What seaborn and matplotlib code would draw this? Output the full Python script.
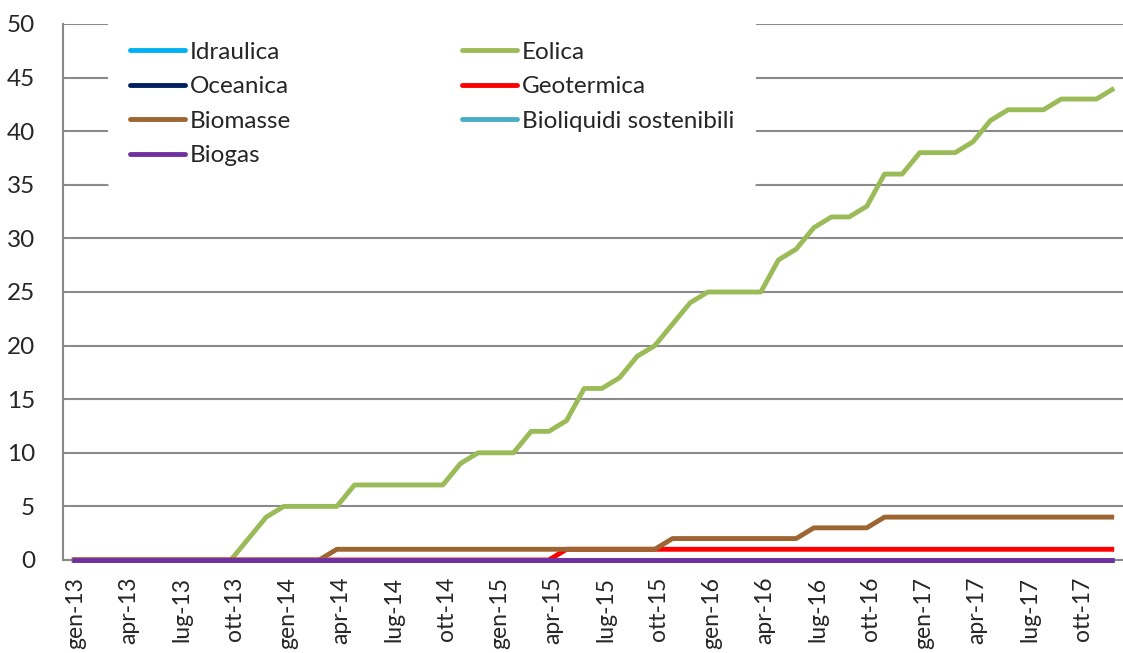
import matplotlib.pyplot as plt
import matplotlib.transforms as mtransforms
import numpy as np
import pandas as pd
import seaborn as sns
from matplotlib.lines import Line2D

months = ["gen", "feb", "mar", "apr", "mag", "giu", "lug", "ago", "set", "ott", "nov", "dic"]
years = ["13", "14", "15", "16", "17"]
periods = [f"{m}-{y}" for y in years for m in months]

idraulica = [0] * 60
oceanica = [0] * 60
bioliquidi = [0] * 60
biogas = [0] * 60
eolica = [0] * 10 + [2, 4, 5, 5, 5, 5, 7, 7, 7, 7,
                     7, 7, 9, 10, 10, 10, 12, 12, 13, 16,
                     16, 17, 19, 20, 22, 24, 25, 25, 25, 25,
                     28, 29, 31, 32, 32, 33, 36, 36, 38, 38,
                     38, 39, 41, 42, 42, 42, 43, 43, 43, 44]
geotermica = [0] * 28 + [1] * 32
biomasse = [0] * 15 + [1] * 19 + [2] * 8 + [3] * 4 + [4] * 14

series = ["Idraulica", "Eolica", "Oceanica", "Geotermica",
          "Biomasse", "Bioliquidi sostenibili", "Biogas"]
values = [idraulica, eolica, oceanica, geotermica, biomasse, bioliquidi, biogas]
colors = ["#00B0F0", "#9BBB59", "#002060", "#FF0000",
          "#9C6531", "#4BACC6", "#7030A0"]

df = pd.DataFrame({
    "idx": np.tile(np.arange(len(periods)), len(series)),
    "fonte": np.repeat(series, len(periods)),
    "valore": np.concatenate(values),
})

sns.set_style("white")
plt.rcParams["font.family"] = ["Lato", "DejaVu Sans"]

fig = plt.figure(figsize=(11.23, 6.53), dpi=100)
ax = fig.add_axes([63 / 1123, 93 / 653, 1060 / 1123, 536 / 653])

sns.lineplot(data=df, x="idx", y="valore", hue="fonte", hue_order=series,
             palette=colors, linewidth=3.5, legend=False, ax=ax,
             solid_joinstyle="round", solid_capstyle="butt", zorder=3, clip_on=False)

ax.set_xlim(-0.5, 59.12)
ax.set_ylim(0, 50)
ax.set_yticks(range(0, 51, 5))
ax.yaxis.grid(True, color="#8a8a8a", linewidth=1.5, zorder=0)
ax.set_axisbelow(True)

ax.set_xticks(np.arange(-0.5, 60, 3))
ax.set_xticks(np.arange(0, 60, 3), minor=True)
ax.set_xticklabels([])
ax.set_xticklabels(periods[::3], minor=True, rotation=90, fontsize=16.5)
ax.tick_params(axis="x", which="major", length=6, width=1.5, color="#8a8a8a", direction="out")
ax.tick_params(axis="x", which="minor", length=0, pad=12)
ax.tick_params(axis="y", length=6, width=1.5, color="#8a8a8a", direction="out",
               labelsize=17.5, pad=14)

# nudge month labels a little to the right, like Excel does
shift = mtransforms.ScaledTranslation(4 / 100, 0, fig.dpi_scale_trans)
for lbl in ax.xaxis.get_minorticklabels():
    lbl.set_transform(lbl.get_transform() + shift)

for s in ["top", "right"]:
    ax.spines[s].set_visible(False)
for s in ["left", "bottom"]:
    ax.spines[s].set_color("#8a8a8a")
    ax.spines[s].set_linewidth(1.5)

ax.set_xlabel("")
ax.set_ylabel("")

# legend filled row by row, as in the original
order = [0, 2, 4, 6, 1, 3, 5]
handles = [Line2D([], [], color=colors[i], linewidth=3.5, solid_capstyle="round") for i in order]
labels = [series[i] for i in order]
ax.legend(handles, labels, ncol=2, loc="upper left",
          bbox_to_anchor=(108 / 1123, 1 - 20 / 653), bbox_transform=fig.transFigure,
          frameon=True, facecolor="white", edgecolor="none", framealpha=1,
          fontsize=17.5, handlelength=2.25, handletextpad=0.2,
          columnspacing=7.05, labelspacing=0.55, borderpad=0.9, borderaxespad=0)

fig.savefig("out.png", dpi=100)
